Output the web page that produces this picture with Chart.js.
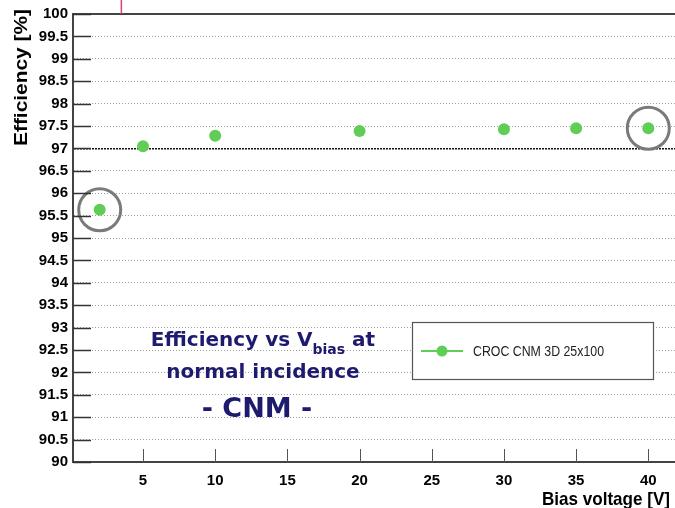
<!DOCTYPE html>
<html>
<head>
<meta charset="utf-8">
<script src="https://cdn.jsdelivr.net/npm/chart.js@4.4.1/dist/chart.umd.min.js"></script>
<style>
  html, body { margin: 0; padding: 0; background: #fff; }
  #wrap { width: 675px; height: 508px; }
</style>
</head>
<body>
<div id="wrap"><canvas id="chart"></canvas></div>
<script>
// values
const biasVoltage = [2, 5, 10, 20, 30, 35, 40];
const efficiency = [95.63, 97.05, 97.28, 97.39, 97.43, 97.45, 97.45];
const circledIdx = [0, 6]; // points with grey rings
const xTickValues = [5, 10, 15, 20, 25, 30, 35, 40];
const seriesLabel = 'CROC CNM 3D 25x100';
const xTitle = 'Bias voltage [V]';
const yTitle = 'Efficiency [%]';
const markerX = 3.5; // little red mark above the frame

const green = 'rgb(96, 206, 86)';
const navy = '#1e1a6e';

const pts = biasVoltage.map((v, i) => ({ x: v, y: efficiency[i] }));
const ringPts = circledIdx.map(i => pts[i]);

// draw text squeezed to a given width
function squeezed(ctx, text, x, y, width) {
  const w = ctx.measureText(text).width;
  ctx.save();
  ctx.translate(x, y);
  ctx.scale(width / w, 1);
  ctx.fillText(text, 0, 0);
  ctx.restore();
}

// extra drawing: inner ticks, frame top, legend box, text
const decor = {
  id: 'decor',
  afterDraw(chart) {
    const ctx = chart.ctx;
    const a = chart.chartArea;
    const xs = chart.scales.x, ys = chart.scales.y;
    ctx.save();

    // top frame
    ctx.strokeStyle = '#444';
    ctx.lineWidth = 2;
    ctx.beginPath();
    ctx.moveTo(a.left, a.top);
    ctx.lineTo(a.right, a.top);
    ctx.stroke();

    // red mark above frame
    const rx = xs.getPixelForValue(markerX);
    ctx.strokeStyle = '#d8407a';
    ctx.lineWidth = 1.5;
    ctx.beginPath();
    ctx.moveTo(rx, 0);
    ctx.lineTo(rx, a.top);
    ctx.stroke();

    // y ticks inside
    ctx.strokeStyle = '#333';
    ctx.lineWidth = 1.5;
    ys.ticks.forEach(t => {
      const y = Math.round(ys.getPixelForValue(t.value)) + 0.5;
      ctx.beginPath();
      ctx.moveTo(a.left, y);
      ctx.lineTo(a.left + 18, y);
      ctx.stroke();
    });
    // x ticks inside
    ctx.strokeStyle = '#555';
    ctx.lineWidth = 1;
    xs.ticks.forEach(t => {
      const x = Math.round(xs.getPixelForValue(t.value)) + 0.5;
      ctx.beginPath();
      ctx.moveTo(x, a.bottom);
      ctx.lineTo(x, a.bottom - 13);
      ctx.stroke();
    });

    // axis titles
    ctx.fillStyle = '#000';
    ctx.textBaseline = 'alphabetic';
    ctx.textAlign = 'left';
    ctx.font = 'bold 19px "Liberation Sans", Arial';
    squeezed(ctx, xTitle, 542, 505, 128);
    ctx.save();
    ctx.translate(27, 146);
    ctx.rotate(-Math.PI / 2);
    ctx.font = 'bold 19px "Liberation Sans", Arial';
    squeezed(ctx, yTitle, 0, 0, 137);
    ctx.restore();

    // legend box
    ctx.fillStyle = '#fff';
    ctx.fillRect(412, 322, 241, 57);
    ctx.strokeStyle = '#555';
    ctx.lineWidth = 1.2;
    ctx.strokeRect(412.5, 322.5, 241, 57);
    ctx.strokeStyle = green;
    ctx.lineWidth = 2;
    ctx.beginPath();
    ctx.moveTo(421, 351);
    ctx.lineTo(463, 351);
    ctx.stroke();
    ctx.fillStyle = green;
    ctx.beginPath();
    ctx.arc(442, 351, 5.5, 0, Math.PI * 2);
    ctx.fill();
    ctx.fillStyle = '#222';
    ctx.font = '15px "Liberation Sans", Arial';
    ctx.textBaseline = 'middle';
    squeezed(ctx, seriesLabel, 473, 352, 131);

    // annotation
    ctx.fillStyle = navy;
    ctx.textBaseline = 'alphabetic';
    const big = 'bold 20px "DejaVu Sans"';
    const small = 'bold 14px "DejaVu Sans"';
    ctx.font = big;
    const p1 = 'Efficiency vs V', p3 = ' at';
    const w1 = ctx.measureText(p1).width, w3 = ctx.measureText(p3).width;
    ctx.font = small;
    const w2 = ctx.measureText('bias').width;
    const x0 = 263 - (w1 + w2 + w3) / 2;
    ctx.font = big;
    ctx.fillText(p1, x0, 346);
    ctx.font = small;
    ctx.fillText('bias', x0 + w1, 354);
    ctx.font = big;
    ctx.fillText(p3, x0 + w1 + w2, 346);
    ctx.textAlign = 'center';
    ctx.fillText('normal incidence', 263, 378);
    ctx.font = 'bold 27px "DejaVu Sans"';
    ctx.fillText('- CNM -', 257, 417);

    ctx.restore();
  }
};

new Chart(document.getElementById('chart'), {
  type: 'scatter',
  data: {
    datasets: [
      {
        label: seriesLabel,
        data: pts,
        pointRadius: 6,
        pointHoverRadius: 6,
        backgroundColor: green,
        borderColor: green,
        borderWidth: 0,
        showLine: false
      },
      {
        label: 'rings',
        data: ringPts,
        pointRadius: 21,
        pointHoverRadius: 21,
        backgroundColor: 'rgba(0,0,0,0)',
        borderColor: '#7a7a7a',
        borderWidth: 3,
        showLine: false,
        clip: false
      }
    ]
  },
  options: {
    responsive: true,
    maintainAspectRatio: false,
    animation: false,
    events: [],
    layout: { autoPadding: false, padding: { top: 14, right: 0, left: 0, bottom: 0 } },
    plugins: { legend: { display: false }, tooltip: { enabled: false } },
    scales: {
      x: {
        type: 'linear',
        min: 0.15,
        max: 41.85,
        afterBuildTicks: s => { s.ticks = xTickValues.map(v => ({ value: v })); },
        afterFit: s => { s.height = 46; s.paddingLeft = 0; s.paddingRight = 0; },
        border: { color: '#444', width: 2 },
        grid: { drawOnChartArea: false, drawTicks: false },
        ticks: {
          autoSkip: false,
          maxRotation: 0,
          padding: 10,
          color: '#000',
          font: { family: 'Liberation Sans', weight: 'bold', size: 15 },
          callback: v => String(v)
        }
      },
      y: {
        min: 90,
        max: 100,
        afterFit: s => { s.width = 73; s.paddingTop = 0; s.paddingBottom = 0; },
        border: {
          color: '#444',
          width: 2,
          dash: ctx => (ctx.tick && ctx.tick.value === 97) ? [2, 1] : (ctx.tick ? [1, 2] : [])
        },
        grid: {
          drawTicks: false,
          color: ctx => (ctx.tick && ctx.tick.value === 97) ? '#111' : '#a0a0a0',
          lineWidth: ctx => (ctx.tick && ctx.tick.value === 97) ? 1.5 : 1
        },
        ticks: {
          stepSize: 0.5,
          autoSkip: false,
          padding: 5,
          color: '#000',
          font: { family: 'Liberation Sans', weight: 'bold', size: 15 },
          callback: v => String(v)
        }
      }
    }
  },
  plugins: [decor]
});
</script>
</body>
</html>
